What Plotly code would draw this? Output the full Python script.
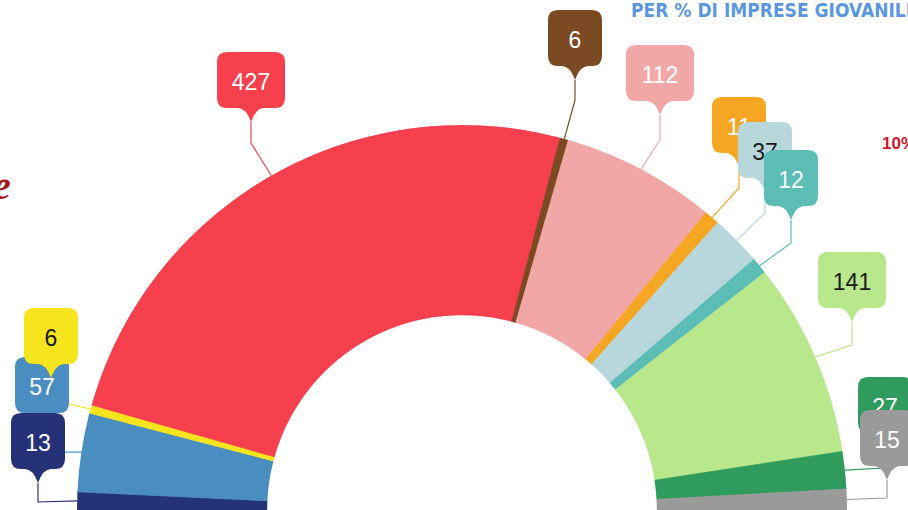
import math
import plotly.graph_objects as go

# ---- data ----
values = [13, 57, 6, 427, 6, 112, 11, 37, 12, 141, 27, 15]
labels = [str(v) for v in values]
colors = ["#263277", "#4A8DC1", "#F6E41C", "#F6404E", "#7C4A22", "#F2A7A7",
          "#F5A724", "#B7D7DD", "#5BBDB6", "#B9E78B", "#2F9C5D", "#9A9A9A"]
text_colors = ["white", "white", "#1a1a1a", "white", "white", "white",
               "white", "#1a1a1a", "white", "#1a1a1a", "white", "white"]

# ---- layout constants (positions / sizes) ----
W, H = 908, 510
CX, CY, R = 462, 510, 385
HOLE = 0.506
# label pin: centre x, tip y, elbow y (per slice)
pin_cx = [38, 42, 51, 251, 575, 660, 739, 765, 791, 852, 885, 887]
pin_tip = [483, 427, 378, 122, 80, 115, 167, 192, 220, 322, 447, 480]
elbow_y = [502, 452, 400, 143, 100, 140, 188, 213, 243, 345, 468, 498]
draw_order = [1, 0, 2, 3, 4, 5, 6, 7, 8, 9, 10, 11]
BOX_H, PTR_H, RAD = 56, 14, 10

total = sum(values)
widths = [v / total * 180 for v in values]
mids = []
acc = 0
for w in widths:
    mids.append(acc + w / 2)
    acc += w

fig = go.Figure()

# leader lines (cartesian pixel axes)
for i, m in enumerate(mids):
    a = math.radians(m)
    ax_ = CX - R * math.cos(a)
    ay_ = CY - R * math.sin(a)
    fig.add_trace(go.Scatter(
        x=[ax_, pin_cx[i], pin_cx[i]], y=[ay_, elbow_y[i], pin_tip[i]],
        mode="lines", line=dict(color=colors[i], width=1.2),
        hoverinfo="skip", showlegend=False))

fig.add_trace(go.Barpolar(
    r=[1] * len(values), theta=mids, width=widths,
    marker=dict(color=colors, line=dict(color=colors, width=0.8)),
    text=labels, hoverinfo="text", showlegend=False))

shapes = []
for i in draw_order:
    cx = pin_cx[i]
    w = 68 if len(labels[i]) >= 3 else 54
    tip = pin_tip[i]
    bot = tip - PTR_H
    top = bot - BOX_H
    l, r_ = cx - w / 2, cx + w / 2
    p = (f"M {l+RAD},{top} L {r_-RAD},{top} Q {r_},{top} {r_},{top+RAD} "
         f"L {r_},{bot-RAD} Q {r_},{bot} {r_-RAD},{bot} L {cx+13},{bot} "
         f"Q {cx+5},{bot} {cx},{tip} Q {cx-5},{bot} {cx-13},{bot} "
         f"L {l+RAD},{bot} Q {l},{bot} {l},{bot-RAD} L {l},{top+RAD} "
         f"Q {l},{top} {l+RAD},{top} Z")
    shapes.append(dict(
        type="path", xref="x", yref="y", path=p, layer="above",
        fillcolor=colors[i], line=dict(width=0),
        label=dict(text=labels[i], textposition="top center", padding=15,
                   font=dict(size=23, color=text_colors[i],
                             family="Liberation Sans, Arial, sans-serif"))))

fig.update_layout(
    width=W, height=H, margin=dict(l=0, r=0, t=0, b=0),
    paper_bgcolor="white", plot_bgcolor="rgba(0,0,0,0)",
    xaxis=dict(range=[0, W], visible=False, fixedrange=True, domain=[0, 1]),
    yaxis=dict(range=[H, 0], visible=False, fixedrange=True, domain=[0, 1]),
    polar=dict(
        domain=dict(x=[(CX - R) / W, (CX + R) / W], y=[(H - CY) / H, (H - CY + R) / H]),
        sector=[0, 180], hole=HOLE, bgcolor="rgba(0,0,0,0)",
        radialaxis=dict(range=[0, 1], visible=False, showgrid=False),
        angularaxis=dict(direction="clockwise", rotation=180, visible=False,
                         showgrid=False),
    ),
    shapes=shapes,
    annotations=[
        dict(text="PER % DI IMPRESE GIOVANILI", x=629, y=10, xref="x", yref="y",
             xanchor="left", yanchor="middle", showarrow=False,
             font=dict(size=19, color="#5B97DE", weight="bold",
                       family="DejaVu Sans Condensed, Liberation Sans Narrow, sans-serif")),
        dict(text="10%", x=880, y=143, xref="x", yref="y", xanchor="left",
             yanchor="middle", showarrow=False,
             font=dict(size=17, color="#D2142C", weight="bold",
                       family="Liberation Sans, Arial, sans-serif")),
        dict(text="<i><b>e</b></i>", x=13, y=185, xref="x", yref="y", xanchor="right",
             yanchor="middle", showarrow=False,
             font=dict(size=40, color="#A51A1A",
                       family="Liberation Serif, DejaVu Serif, serif")),
    ],
)

fig.write_html("out.html")
